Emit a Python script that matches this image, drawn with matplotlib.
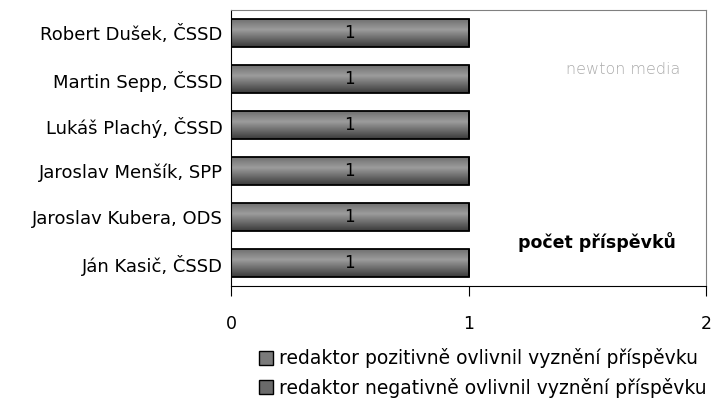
import numpy as np
import matplotlib
matplotlib.use('Agg')
import matplotlib.pyplot as plt
from matplotlib.colors import LinearSegmentedColormap
from matplotlib.patches import Patch

names = ['Ján Kasič, ČSSD', 'Jaroslav Kubera, ODS', 'Jaroslav Menšík, SPP',
         'Lukáš Plachý, ČSSD', 'Martin Sepp, ČSSD', 'Robert Dušek, ČSSD']
positive = [1, 1, 1, 1, 1, 1]
negative = [0, 0, 0, 0, 0, 0]
series_labels = ['redaktor pozitivně ovlivnil vyznění příspěvku',
                 'redaktor negativně ovlivnil vyznění příspěvku']
xticks = [0, 1, 2]

plt.rcParams['font.family'] = ['DejaVu Sans']
fig = plt.figure(figsize=(7.16, 4.05), dpi=100)
ax = fig.add_axes([231 / 716, 1 - 286 / 405, 475 / 716, 276 / 405])

y = np.arange(len(names))
bars = ax.barh(y, positive, height=0.63, color='none', edgecolor='black',
               linewidth=1.3, zorder=3)
ax.barh(y, negative, left=positive, height=0.63, color='none',
        edgecolor='black', linewidth=1.3, zorder=3)

# grey gradient inside each bar
cmap = LinearSegmentedColormap.from_list(
    'g', [(0, '#3a3a3a'), (0.6, '#9c9c9c'), (1, '#6c6c6c')])
grad = np.linspace(0, 1, 100).reshape(-1, 1)
for b in bars:
    x0, y0 = b.get_x(), b.get_y()
    im = ax.imshow(grad, extent=[x0, x0 + b.get_width(), y0, y0 + b.get_height()],
                   origin='lower', aspect='auto', cmap=cmap, zorder=2)
    im.set_clip_path(b)
    ax.text(x0 + b.get_width() / 2, y0 + b.get_height() / 2, str(b.get_width()),
            ha='center', va='center', fontsize=12, zorder=4)

ax.set_xlim(0, 2)
ax.set_ylim(-0.5, len(names) - 0.5)
ax.set_xticks(xticks)
ax.set_xticklabels([str(t) for t in xticks], fontsize=12.5)
ax.set_yticks(y)
ax.set_yticklabels(names, fontsize=13)
ax.tick_params(axis='x', length=7, pad=14, direction='out')
ax.tick_params(axis='y', length=0, pad=6)
ax.spines['top'].set_color('#808080')
ax.spines['right'].set_color('#808080')

ax.text(0.77, 0.16, 'počet příspěvků', transform=ax.transAxes, ha='center',
        va='center', fontsize=12.5, fontweight='bold')
ax.text(0.825, 0.785, 'newton media', transform=ax.transAxes, ha='center',
        va='center', fontsize=11.5, color='#ababab', fontweight='light')

handles = [Patch(facecolor='#7a7a7a', edgecolor='black', linewidth=1),
           Patch(facecolor='#6a6a6a', edgecolor='black', linewidth=1)]
fig.legend(handles, series_labels, loc='center left',
           bbox_to_anchor=(250 / 716, 1 - 373 / 405), frameon=False,
           fontsize=13.5, handlelength=0.75, handleheight=0.75,
           handletextpad=0.3, labelspacing=0.5, borderpad=0)

fig.savefig('out.png', dpi=100)
